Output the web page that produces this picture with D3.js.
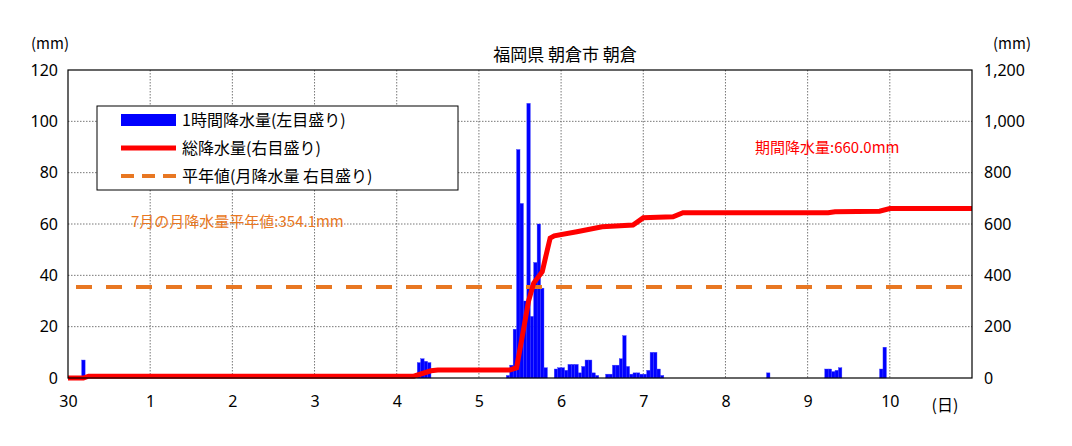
<!DOCTYPE html>
<html><head><meta charset="utf-8">
<script src="https://cdn.jsdelivr.net/npm/d3@7/dist/d3.min.js"></script>
<style>body{margin:0;background:#fff}text{font-family:"Noto Sans CJK JP","Noto Sans",sans-serif}</style>
</head><body><svg id="c" width="1072" height="446"></svg>
<script>
const title = "福岡県 朝倉市  朝倉";
const dayLabels = ["30","1","2","3","4","5","6","7","8","9","10"];
const leftTicks = [0,20,40,60,80,100,120];
const rightTicks = [0,200,400,600,800,1000,1200];
// hourly rain [hour since 30th 0:00, mm]
const hourly = [[4,7],[102,6],[103,7.5],[104,6.5],[105,6],[128,1],[129,5],[130,19],[131,89],[132,68],[133,30],[134,107],[135,24],[136,45],[137,60],[138,35],[139,4],
[142,3.5],[143,4],[144,4],[145,3],[146,5.3],[147,5.3],[148,5.3],[149,2],[150,4.5],[151,7],[152,7],[153,2],[154,1],[157,1.5],[158,1.5],[159,5],[160,5],[161,7.5],[162,16.5],[163,4.5],[164,1.5],[165,2],[166,2],[167,1.5],[168,1.5],[169,3],[170,10],[171,10],[172,3.5],[173,1],
[204,2],[221,3.5],[222,3.5],[223,2.5],[224,3],[225,4],[237,3.5],[238,12]];
// cumulative total [hour, mm]
const total = [[0,0],[4.5,0],[6,7],[101,7],[106,28],[108,31],[129,31],[131,40],[132.5,150],[134.5,300],[136,370],[138.5,414],[139.5,472],[140.8,545],[142,554],[148.6,570],[156,589],[165,596],[168,624],[176.7,628],[179.6,644],[222,644],[224,648],[237,650],[240,660],[264,660]];
const normalMonthly = 354.1;
const periodLabel = "期間降水量:660.0mm";
const normalLabel = "7月の月降水量平年値:354.1mm";
const legendItems = ["1時間降水量(左目盛り)","総降水量(右目盛り)","平年値(月降水量  右目盛り)"];

const L=68,R=972,T=70,B=378;
const svg=d3.select("#c");
const x=d3.scaleLinear().domain([0,264]).range([L,R]);
const yl=d3.scaleLinear().domain([0,120]).range([B,T]);
const yr=d3.scaleLinear().domain([0,1200]).range([B,T]);
const g=svg.append("g");
// grid
g.selectAll(".hg").data(leftTicks.slice(1,-1)).join("line").attr("x1",L).attr("x2",R).attr("y1",d=>yl(d)).attr("y2",d=>yl(d)).attr("stroke","#777").attr("stroke-dasharray","1.5,1.5");
g.selectAll(".vg").data(d3.range(1,11)).join("line").attr("x1",d=>x(d*24)).attr("x2",d=>x(d*24)).attr("y1",T).attr("y2",B).attr("stroke","#777").attr("stroke-dasharray","1.5,1.5");
// bars
g.selectAll(".bar").data(hourly).join("rect").attr("x",d=>x(d[0])).attr("width",x(1)-x(0)).attr("y",d=>yl(d[1])).attr("height",d=>B-yl(d[1])).attr("fill","#0000ff").attr("stroke","#3a3aff").attr("stroke-width",0.4);
// normal line
g.append("line").attr("x1",L).attr("x2",R).attr("y1",yr(normalMonthly)).attr("y2",yr(normalMonthly)).attr("stroke","#e87722").attr("stroke-width",4).attr("stroke-dasharray","16,14").attr("stroke-dashoffset",-8);
// total line
g.append("path").datum(total).attr("d",d3.line().x(d=>x(d[0])).y(d=>yr(d[1]))).attr("fill","none").attr("stroke","#ff0000").attr("stroke-width",5);
// border
g.append("rect").attr("x",L).attr("y",T).attr("width",R-L).attr("height",B-T).attr("fill","none").attr("stroke","#000").attr("stroke-width",1.2);
// axes
const ax=svg.append("g").attr("transform",`translate(${L},0)`).call(d3.axisLeft(yl).tickValues(leftTicks).tickSize(0).tickPadding(10));
const ar=svg.append("g").attr("transform",`translate(${R},0)`).call(d3.axisRight(yr).tickValues(rightTicks).tickSize(0).tickPadding(12));
const xb=svg.append("g").attr("transform",`translate(0,${B})`).call(d3.axisBottom(x).tickValues(d3.range(0,11).map(d=>d*24)).tickFormat((d,i)=>dayLabels[i]).tickSize(0).tickPadding(18));
[ax,ar,xb].forEach(a=>{a.select(".domain").remove();a.selectAll("text").attr("font-size",16).attr("fill","#000").style("font-family","'Noto Sans','Noto Sans CJK JP',sans-serif");});
svg.append("text").attr("x",50).attr("y",49).attr("text-anchor","middle").attr("font-size",15).text("(mm)");
svg.append("text").attr("x",1012).attr("y",49).attr("text-anchor","middle").attr("font-size",15).text("(mm)");
svg.append("text").attr("x",945).attr("y",411).attr("text-anchor","middle").attr("font-size",16).text("(日)");
svg.append("text").attr("x",565).attr("y",61).attr("text-anchor","middle").attr("font-size",17).text(title);
// legend
const lg=svg.append("g");
lg.append("rect").attr("x",97).attr("y",106).attr("width",361).attr("height",84).attr("fill","#fff").attr("stroke","#000");
lg.append("rect").attr("x",121).attr("y",114).attr("width",55).attr("height",12).attr("fill","#0000ff");
lg.append("line").attr("x1",121).attr("x2",176).attr("y1",148).attr("y2",148).attr("stroke","#ff0000").attr("stroke-width",5);
lg.append("line").attr("x1",121).attr("x2",176).attr("y1",176).attr("y2",176).attr("stroke","#e87722").attr("stroke-width",4).attr("stroke-dasharray","13,8");
lg.selectAll(".lt").data(legendItems).join("text").attr("x",182).attr("y",(d,i)=>126+i*28).attr("font-size",16).text(d=>d);
svg.append("text").attr("x",755).attr("y",153).attr("font-size",15).attr("fill","#ff0000").text(periodLabel);
svg.append("text").attr("x",131).attr("y",227).attr("font-size",15).attr("fill","#e87722").text(normalLabel);
</script></body></html>
